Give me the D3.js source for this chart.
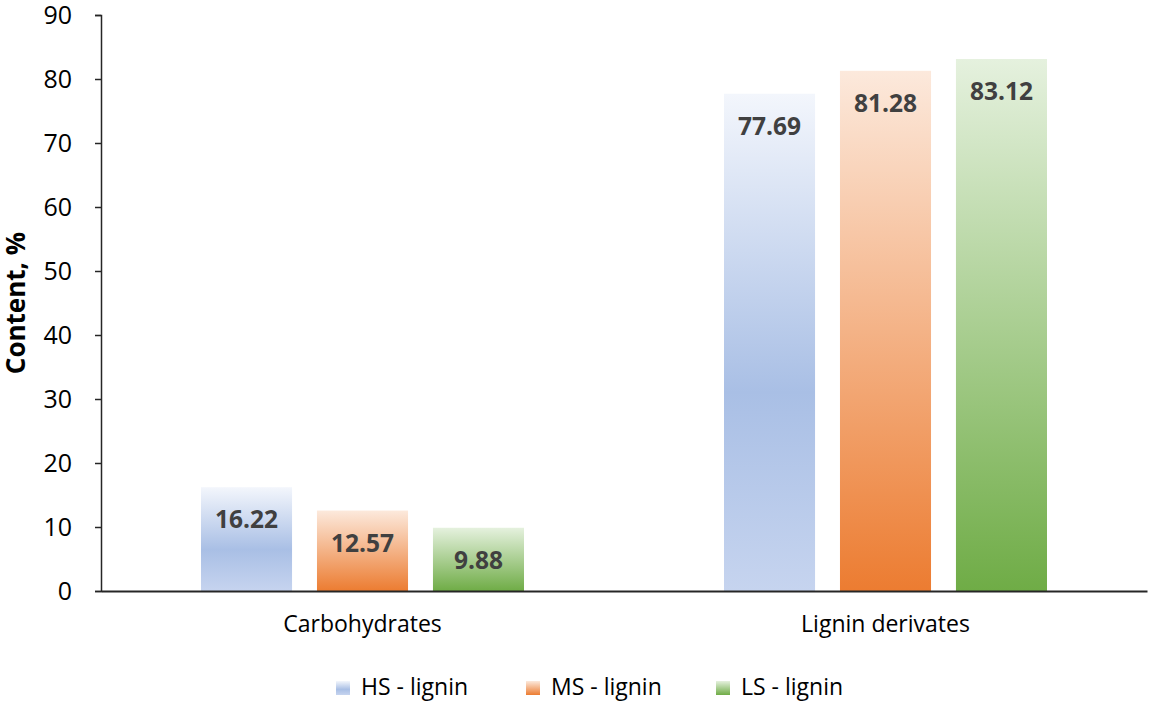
<!DOCTYPE html>
<html><head><meta charset="utf-8">
<script src="https://cdn.jsdelivr.net/npm/d3@7/dist/d3.min.js"></script>
<style>body{margin:0;background:#fff}svg{display:block}</style>
</head><body>
<svg id="c" width="1150" height="705"></svg>
<script>
const categories = ["Carbohydrates", "Lignin derivates"];
const seriesNames = ["HS - lignin", "MS - lignin", "LS - lignin"];
const hsValues = [16.22, 77.69];
const msValues = [12.57, 81.28];
const lsValues = [9.88, 83.12];
const yTicks = [0,10,20,30,40,50,60,70,80,90];

const seriesValues = [hsValues, msValues, lsValues];
const gradStops = [
  [["0%","#f3f6fc"],["60%","#a9bfe5"],["100%","#c6d4ef"]],
  [["0%","#fce9dc"],["100%","#ec7c31"]],
  [["0%","#e5f1de"],["100%","#6fac46"]]
];

const svg = d3.select("#c");
const font = "'Open Sans', sans-serif";
const m = {l:101, r:3, t:15, b:114};
const W = 1150, H = 705;
const x0 = d3.scaleBand().domain(categories).range([m.l, W - m.r]).paddingInner(0).paddingOuter(0);
const x1 = d3.scaleBand().domain(seriesNames).range([0, 323]).paddingInner(0.215).paddingOuter(0);
const y = d3.scaleLinear().domain([0, 90]).range([H - m.b, m.t]);

const defs = svg.append("defs");
gradStops.forEach((st, i) => {
  const g = defs.append("linearGradient").attr("id", "g" + i).attr("x1", 0).attr("y1", 0).attr("x2", 0).attr("y2", 1);
  st.forEach(s => g.append("stop").attr("offset", s[0]).attr("stop-color", s[1]));
});

// bars
categories.forEach((c, ci) => {
  const gx = x0(c) + x0.bandwidth() / 2 - 323 / 2;
  seriesNames.forEach((s, si) => {
    const v = seriesValues[si][ci];
    svg.append("rect")
      .attr("x", gx + x1(s)).attr("width", x1.bandwidth())
      .attr("y", y(v)).attr("height", y(0) - y(v))
      .attr("fill", `url(#g${si})`);
    svg.append("text")
      .attr("x", gx + x1(s) + x1.bandwidth() / 2)
      .attr("y", y(v) + 41)
      .attr("text-anchor", "middle")
      .attr("font-family", font).attr("font-weight", "bold").attr("font-size", 24.5)
      .attr("fill", "#404040")
      .text(v.toFixed(2));
  });
});

// y axis
const ya = svg.append("g").attr("transform", `translate(${m.l},0)`)
  .call(d3.axisLeft(y).tickValues(yTicks).tickSize(6).tickPadding(23).tickFormat(d3.format("d")));
ya.select(".domain").attr("stroke", "#262626").attr("stroke-width", 1.5);
ya.selectAll(".tick line").attr("stroke", "#262626").attr("stroke-width", 1.5);
ya.selectAll(".tick text").attr("font-family", font).attr("font-size", 25).attr("fill", "#000");

// x axis
const xa = svg.append("g").attr("transform", `translate(0,${y(0)})`)
  .call(d3.axisBottom(x0).tickSize(0).tickPadding(25));
xa.select(".domain").attr("stroke", "#262626").attr("stroke-width", 2);
xa.selectAll(".tick text").attr("font-family", font).attr("font-size", 23).attr("fill", "#000");

// y title
svg.append("text")
  .attr("transform", `translate(25,${(y(0)+y(90))/2}) rotate(-90)`)
  .attr("text-anchor", "middle")
  .attr("font-family", font).attr("font-weight", "bold").attr("font-size", 26).attr("fill", "#000")
  .text("Content, %");

// legend
const lx = [336, 526, 716];
seriesNames.forEach((s, i) => {
  svg.append("rect").attr("x", lx[i]).attr("y", 681).attr("width", 14).attr("height", 14).attr("fill", `url(#g${i})`);
  svg.append("text").attr("x", lx[i] + 25).attr("y", 695)
    .attr("font-family", font).attr("font-size", 23).attr("fill", "#000").text(s);
});
</script>
</body></html>
